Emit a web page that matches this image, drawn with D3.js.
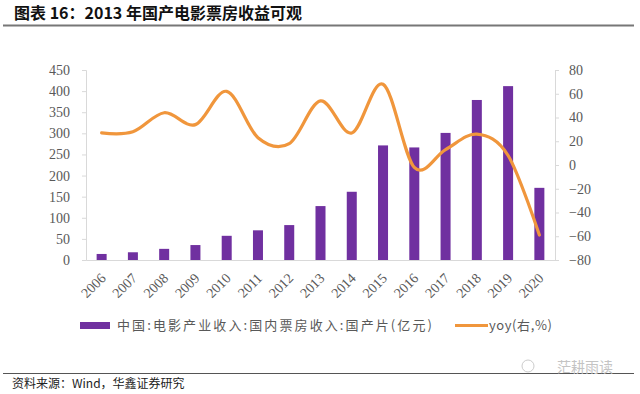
<!DOCTYPE html>
<html>
<head>
<meta charset="utf-8">
<script src="https://cdn.jsdelivr.net/npm/d3@7"></script>
<style>
body { margin: 0; background: #fff; }
svg { display: block; }
</style>
</head>
<body>
<div id="chart"></div>
<script>
// --> DATA
var years = ["2006", "2007", "2008", "2009", "2010", "2011", "2012", "2013",
             "2014", "2015", "2016", "2017", "2018", "2019", "2020"];
var revenue = [14.3, 18.3, 26.4, 35.4, 57.3, 70.3, 82.7, 127.7,
               161.6, 271.4, 266.6, 301.0, 379.0, 411.8, 170.9];
var yoy = [27, 28, 44, 34, 62, 23, 18, 54, 27, 68, -2, 13, 26, 8, -59];
var leftTicks = [0, 50, 100, 150, 200, 250, 300, 350, 400, 450];
var rightTicks = [-80, -60, -40, -20, 0, 20, 40, 60, 80];

var barName = "中国:电影产业收入:国内票房收入:国产片(亿元)";
var lineName = "yoy(右,%)";

var width = 640,
    height = 394;

var purple = "#7030a0";
var orange = "#f0963c";

var svg = d3.select("#chart").append("svg")
    .attr("width", width)
    .attr("height", height);

// title + rules
svg.append("text")
    .attr("x", 14)
    .attr("y", 19)
    .style("font-family", "'Noto Sans CJK SC', sans-serif")
    .style("font-size", "16px")
    .style("font-weight", "bold")
    .style("fill", "#111")
    .text("图表 16：2013 年国产电影票房收益可观");

svg.append("line")
    .attr("x1", 3).attr("x2", 634)
    .attr("y1", 25.5).attr("y2", 25.5)
    .style("stroke", "#777")
    .style("stroke-width", 2);

svg.append("line")
    .attr("x1", 3).attr("x2", 634)
    .attr("y1", 373.5).attr("y2", 373.5)
    .style("stroke", "#555")
    .style("stroke-width", 1);

svg.append("text")
    .attr("x", 12)
    .attr("y", 388)
    .style("font-family", "'Noto Sans CJK SC', sans-serif")
    .style("font-size", "12px")
    .style("fill", "#222")
    .text("资料来源：Wind，华鑫证券研究");

// watermark
svg.append("circle")
    .attr("cx", 528).attr("cy", 366).attr("r", 6)
    .style("fill", "none")
    .style("stroke", "#ccc")
    .style("stroke-width", 1);

svg.append("text")
    .attr("x", 557)
    .attr("y", 372)
    .style("font-family", "'Noto Sans CJK SC', sans-serif")
    .style("font-size", "14px")
    .style("fill", "#c4c4c4")
    .text("茫耕雨读");

// --> SCALES
var x = d3.scaleBand()
    .domain(years)
    .range([86, 555])
    .paddingInner(0.68)
    .paddingOuter(0.34);

var yLeft = d3.scaleLinear()
    .domain([0, 450])
    .range([260, 70]);

var yRight = d3.scaleLinear()
    .domain([-80, 80])
    .range([260, 70]);

// --> AXES
var tickFont = "'Liberation Serif', 'Times New Roman', serif";

var leftAxis = svg.append("g")
    .attr("transform", "translate(86,0)")
    .call(d3.axisLeft(yLeft).tickValues(leftTicks).tickSize(4).tickPadding(12));

var rightAxis = svg.append("g")
    .attr("transform", "translate(555,0)")
    .call(d3.axisRight(yRight).tickValues(rightTicks).tickSize(4).tickPadding(10));

[leftAxis, rightAxis].forEach(function (g) {
    g.select(".domain").style("stroke", "#d9d9d9");
    g.selectAll(".tick line").style("stroke", "#d9d9d9");
    g.selectAll("text")
        .style("font-family", tickFont)
        .style("font-size", "14px")
        .style("fill", "#595959");
});

var bottomAxis = svg.append("g")
    .attr("transform", "translate(0,260)")
    .call(d3.axisBottom(x).tickSize(0).tickPadding(0));

bottomAxis.select(".domain").style("stroke", "#d9d9d9");
bottomAxis.selectAll("text")
    .style("font-family", tickFont)
    .style("font-size", "14px")
    .style("fill", "#595959")
    .attr("text-anchor", "end")
    .attr("dy", 0)
    .attr("transform", "translate(5,19) rotate(-45)");

// --> BARS
svg.append("g").selectAll("rect")
    .data(revenue)
    .enter()
    .append("rect")
    .attr("x", function (d, i) { return x(years[i]); })
    .attr("width", x.bandwidth())
    .attr("y", function (d) { return yLeft(d); })
    .attr("height", function (d) { return yLeft(0) - yLeft(d); })
    .style("fill", purple);

// --> LINE
var line = d3.line()
    .x(function (d, i) { return x(years[i]) + x.bandwidth() / 2; })
    .y(function (d) { return yRight(d); })
    .curve(d3.curveCardinal.tension(0));

svg.append("path")
    .datum(yoy)
    .attr("d", line)
    .style("fill", "none")
    .style("stroke", orange)
    .style("stroke-width", 3.2)
    .style("stroke-linecap", "round");

// --> LEGEND
var legendFont = "'Noto Sans CJK SC', sans-serif";

svg.append("rect")
    .attr("x", 80).attr("y", 322)
    .attr("width", 30).attr("height", 7)
    .style("fill", purple);

svg.append("text")
    .attr("x", 117).attr("y", 330)
    .style("font-family", legendFont)
    .style("font-size", "13px")
    .style("letter-spacing", "2.1px")
    .style("fill", "#595959")
    .text(barName);

svg.append("line")
    .attr("x1", 455).attr("x2", 488)
    .attr("y1", 325.5).attr("y2", 325.5)
    .style("stroke", orange)
    .style("stroke-width", 3);

svg.append("text")
    .attr("x", 489).attr("y", 330)
    .style("font-family", legendFont)
    .style("font-size", "13px")
    .style("letter-spacing", "0.6px")
    .style("fill", "#595959")
    .text(lineName);
</script>
</body>
</html>
